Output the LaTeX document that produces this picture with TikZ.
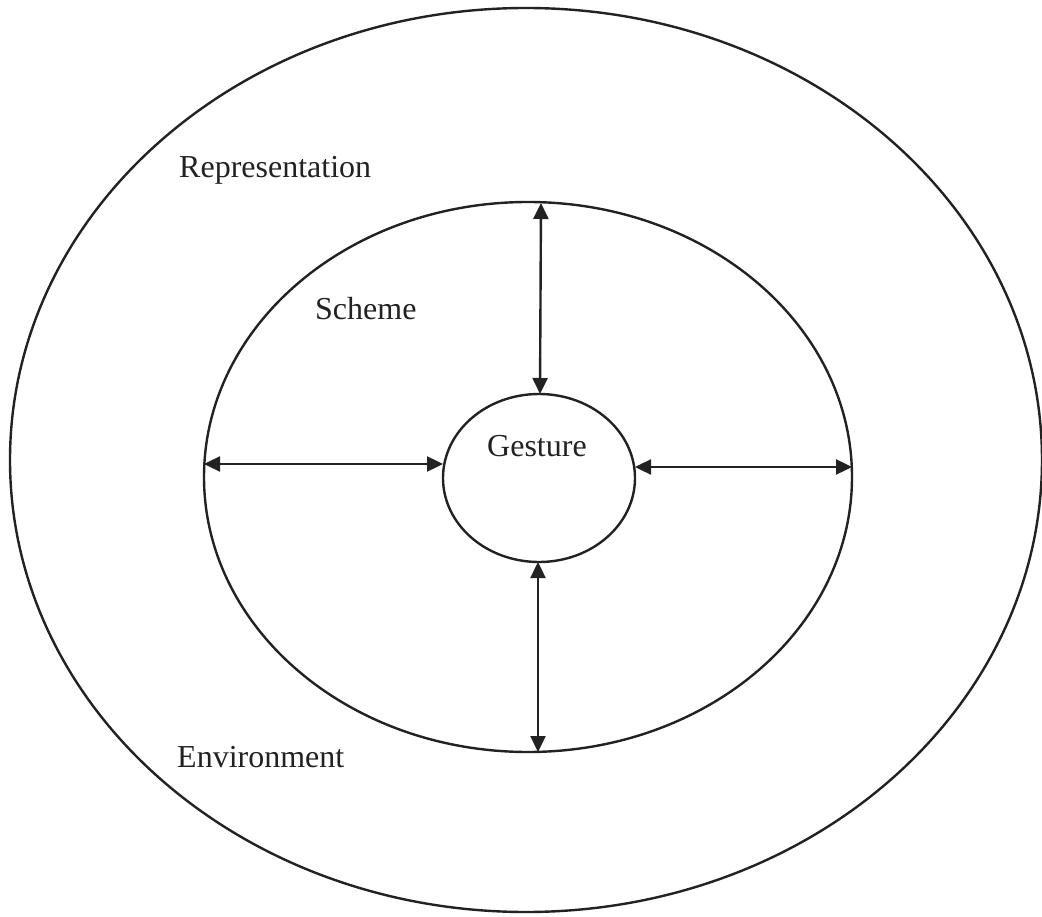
\documentclass[tikz,border=0pt]{standalone}
\usepackage{fontspec}
\setmainfont{Liberation Serif}
\usetikzlibrary{shapes.geometric,arrows.meta}
\definecolor{ink}{HTML}{222222}
\tikzset{
  ring/.style={draw=ink, line width=2.4pt, ellipse, inner sep=0pt, outer sep=0pt},
  label/.style={text=ink, anchor=base west, inner sep=0pt, font=\fontsize{32}{38}\selectfont},
  link/.style={draw=ink, line width=2.4pt, {Triangle[length=16pt,width=15pt]}-{Triangle[length=16pt,width=15pt]}}
}
\begin{document}
\begin{tikzpicture}[x=1pt,y=-1pt]
  \useasboundingbox (0,0) rectangle (1042,917);
  \fill[white] (0,0) rectangle (1042,917);

  % three nested rings
  \node[ring, minimum width=1032pt, minimum height=904pt] (outer) at (526,460) {};
  \node[ring, minimum width=648pt, minimum height=550pt] (mid) at (528,477) {};
  \node[ring, minimum width=192pt, minimum height=168pt] (inner) at (539,478) {};

  % labels
  \node[label] (rep) at (179,178) {Representation};
  \node[label] (sch) at (315,320) {Scheme};
  \node[label] (env) at (177,767) {Environment};
  \node[label] (ges) at (487,456) {Gesture};

  % end points of the links on the two rings
  \coordinate (midT) at (541,203);
  \coordinate (midB) at (538,752);
  \coordinate (midL) at (204,464);
  \coordinate (midR) at (852,467);
  \coordinate (inT) at (540,394);
  \coordinate (inB) at (538,562);
  \coordinate (inL) at (443,464);
  \coordinate (inR) at (635,467);

  % two-way links between the scheme ring and the gesture ring
  \draw[link] (midT) -- (inT);
  \draw[link] (midB) -- (inB);
  \draw[link] (midL) -- (inL);
  \draw[link] (midR) -- (inR);
\end{tikzpicture}
\end{document}
